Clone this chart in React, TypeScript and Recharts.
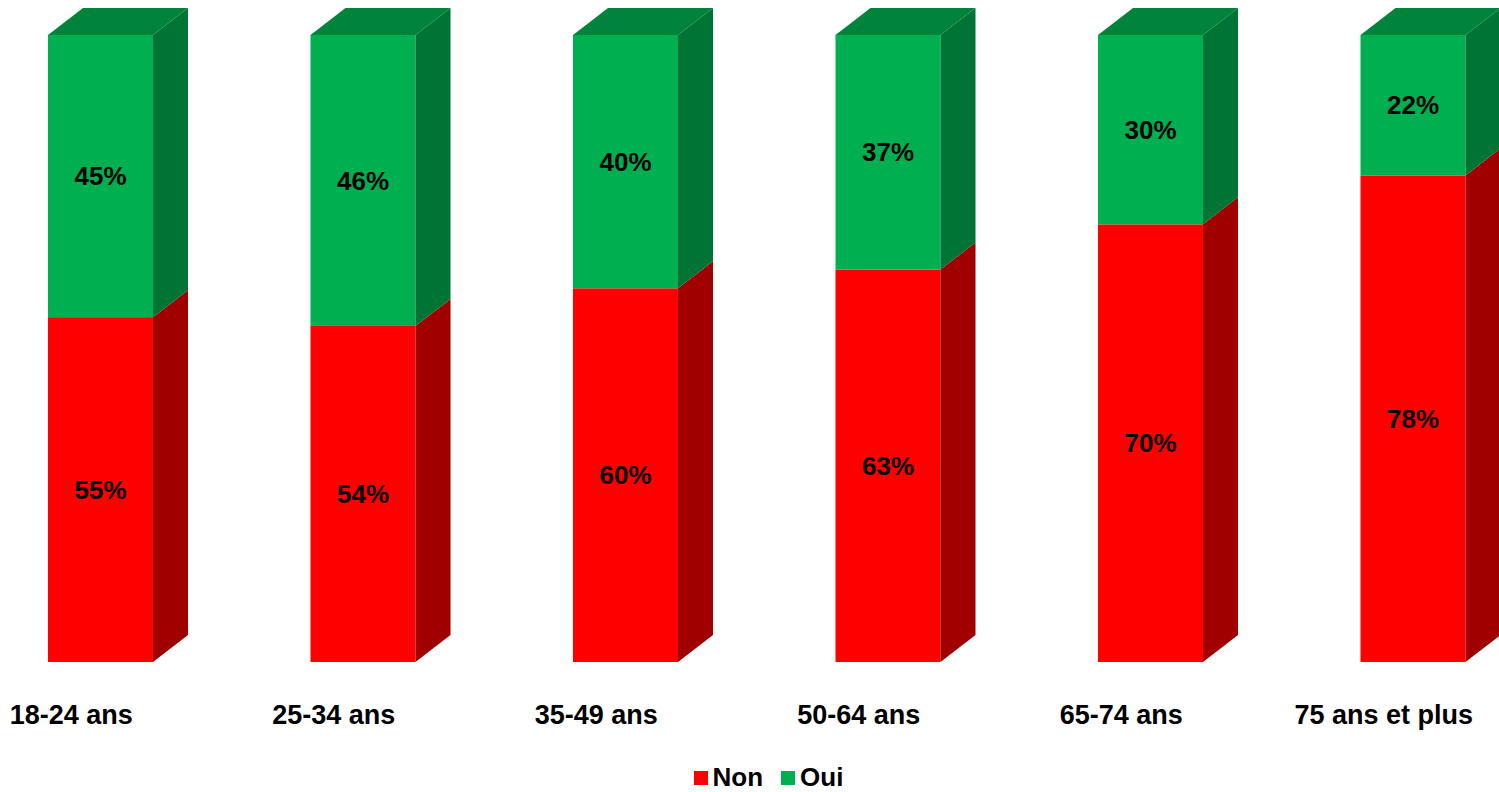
import { Bar, BarChart, LabelList, XAxis, YAxis } from "recharts";

const categories = ["18-24 ans", "25-34 ans", "35-49 ans", "50-64 ans", "65-74 ans", "75 ans et plus"];
// labels show the rounded percent
const nonValues = [55, 53.6, 59.6, 62.6, 69.8, 77.6];
const ouiValues = [45, 46.4, 40.4, 37.4, 30.2, 22.4];

const FONT = '"Liberation Sans", Arial, sans-serif';
const DX = 35;
const DY = 27;

const series = [
  { key: "non", name: "Non", front: "#FF0000", side: "#A00000", top: "#C00000" },
  { key: "oui", name: "Oui", front: "#00B050", side: "#007434", top: "#00843C" },
];

const data = categories.map((name, i) => ({
  name,
  non: nonValues[i],
  oui: ouiValues[i],
}));

function makeShape(front: string, side: string, top: string, withTop: boolean) {
  return (props: unknown) => {
    const p = props as { x: number; y: number; width: number; height: number };
    const { x, y, width: w, height: h } = p;
    return (
      <g>
        <rect x={x} y={y} width={w} height={h} fill={front} />
        <polygon
          points={`${x + w},${y} ${x + w + DX},${y - DY} ${x + w + DX},${y + h - DY} ${x + w},${y + h}`}
          fill={side}
        />
        {withTop && (
          <polygon
            points={`${x},${y} ${x + DX},${y - DY} ${x + w + DX},${y - DY} ${x + w},${y}`}
            fill={top}
          />
        )}
      </g>
    );
  };
}

function CategoryTick(props: unknown) {
  const p = props as { x: number; payload: { value: string } };
  return (
    <text
      x={p.x - 29}
      y={724}
      textAnchor="middle"
      fontFamily={FONT}
      fontWeight="bold"
      fontSize={27}
      fill="#000"
    >
      {p.payload.value}
    </text>
  );
}

export default function App() {
  return (
    <div
      style={{
        position: "absolute",
        left: 0,
        top: 0,
        width: 1499,
        height: 792,
        overflow: "hidden",
        background: "#fff",
        fontFamily: FONT,
      }}
    >
      <div style={{ position: "absolute", left: -31, top: 0 }}>
        <BarChart
          width={1575}
          height={792}
          data={data}
          margin={{ top: 35, right: 0, bottom: 0, left: 0 }}
          barSize={105}
        >
          <XAxis
            dataKey="name"
            height={130}
            axisLine={false}
            tickLine={false}
            interval={0}
            tick={CategoryTick}
          />
          <YAxis hide domain={[0, 100]} />
          {series.map((s, i) => (
            <Bar
              key={s.key}
              dataKey={s.key}
              name={s.name}
              stackId="a"
              fill={s.front}
              isAnimationActive={false}
              shape={makeShape(s.front, s.side, s.top, i === series.length - 1)}
            >
              <LabelList
                dataKey={s.key}
                position="center"
                formatter={(v: unknown) => `${Math.round(Number(v))}%`}
                fill="#000"
                fontSize={26}
                fontWeight="bold"
                fontFamily={FONT}
              />
            </Bar>
          ))}
        </BarChart>
      </div>
      <div
        style={{
          position: "absolute",
          top: 762,
          left: 0,
          width: 1499,
          display: "flex",
          justifyContent: "center",
          alignItems: "center",
          gap: 18,
          fontSize: 26,
          fontWeight: "bold",
          color: "#000",
          paddingLeft: 38,
          boxSizing: "border-box",
        }}
      >
        {series.map((s) => (
          <span key={s.key} style={{ display: "flex", alignItems: "center", gap: 5 }}>
            <span style={{ display: "inline-block", width: 14, height: 14, background: s.front }} />
            {s.name}
          </span>
        ))}
      </div>
    </div>
  );
}
